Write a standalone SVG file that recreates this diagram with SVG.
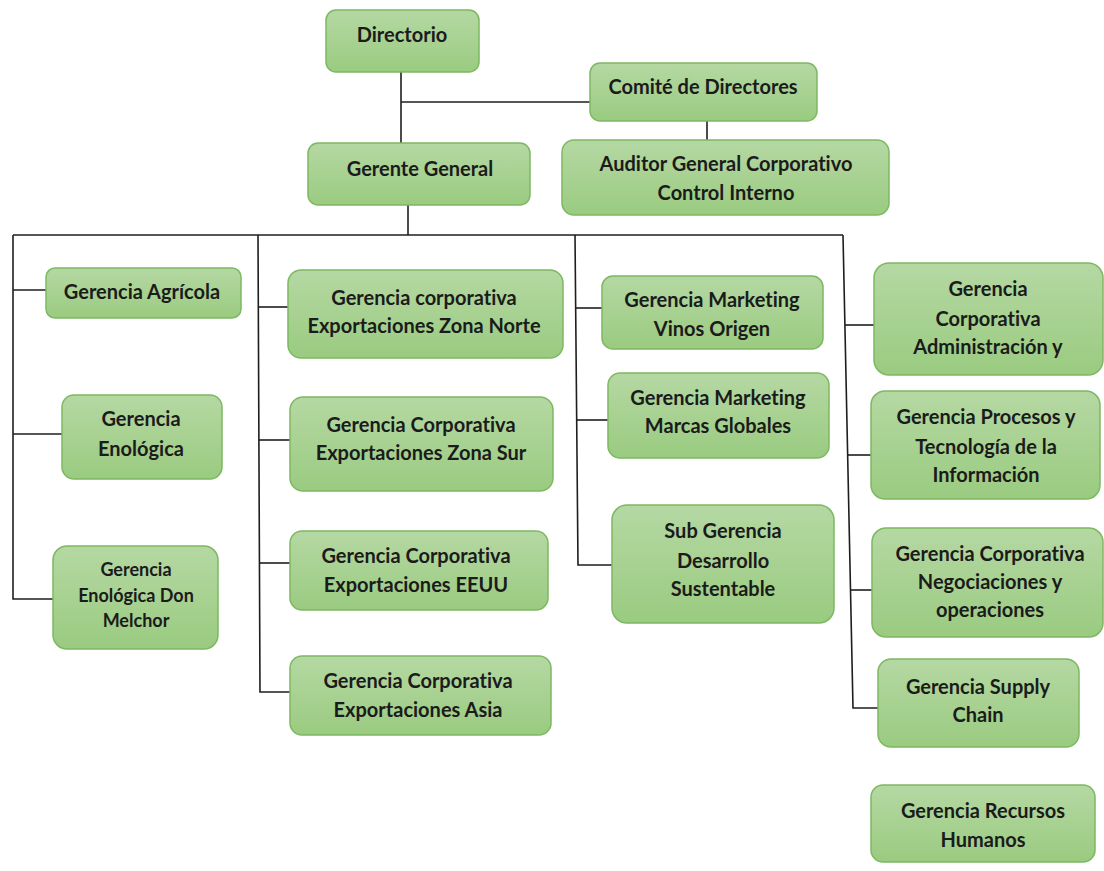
<svg xmlns="http://www.w3.org/2000/svg" width="1104" height="871" viewBox="0 0 1104 871">
  <defs>
    <linearGradient id="boxFill" x1="0" y1="0" x2="0" y2="1">
      <stop offset="0" stop-color="#b5d8a3"/>
      <stop offset="1" stop-color="#9acb80"/>
    </linearGradient>
    <style>
      .box { fill: url(#boxFill); stroke: #7db862; stroke-width: 1.5; }
      .lbl { font-family: Lato, "Open Sans", "Liberation Sans", sans-serif; font-weight: 700; font-size: 20px; fill: #1b1b1b; text-anchor: middle; dominant-baseline: central; font-variant-ligatures: none; }
      .small { font-size: 18px; }
      .wire { fill: none; stroke: #1e1e1e; stroke-width: 1.6; }
    </style>
  </defs>
  <rect width="1104" height="871" fill="#ffffff"/>

  <!-- connectors -->
  <g id="connectors" class="wire">
    <path d="M401 72 V143"/>
    <path d="M401 102 H590"/>
    <path d="M707 121 V140"/>
    <path d="M408 205 V235"/>
    <path d="M13 235 H843"/>
    <!-- column 1 -->
    <path d="M13 235 V599 H53"/>
    <path d="M13 290 H46"/>
    <path d="M13 434 H62"/>
    <!-- column 2 -->
    <path d="M258 235 L260 692 H290"/>
    <path d="M258 307 H288"/>
    <path d="M259 440 H290"/>
    <path d="M259 563 H290"/>
    <!-- column 3 -->
    <path d="M575 235 L578 565 H612"/>
    <path d="M575 308 H602"/>
    <path d="M577 420 H608"/>
    <!-- column 4 -->
    <path d="M843 235 L853 708 H878"/>
    <path d="M845 325 H874"/>
    <path d="M848 455 H871"/>
    <path d="M851 590 H872"/>
  </g>

  <g id="directorio">
    <rect class="box" x="326" y="10" width="153" height="62" rx="10"/>
    <text class="lbl" x="402" y="34">Directorio</text>
  </g>
  <g id="comite">
    <rect class="box" x="590" y="63" width="227" height="58" rx="10"/>
    <text class="lbl" x="703" y="86">Comité de Directores</text>
  </g>
  <g id="gerente-general">
    <rect class="box" x="308" y="143" width="222" height="62" rx="10"/>
    <text class="lbl" x="420" y="168">Gerente General</text>
  </g>
  <g id="auditor">
    <rect class="box" x="562" y="140" width="327" height="75" rx="12"/>
    <text class="lbl" x="726" y="163">Auditor General Corporativo</text>
    <text class="lbl" x="726" y="192">Control Interno</text>
  </g>

  <g id="agricola">
    <rect class="box" x="46" y="268" width="195" height="50" rx="9"/>
    <text class="lbl" x="142" y="291">Gerencia Agrícola</text>
  </g>
  <g id="enologica">
    <rect class="box" x="62" y="395" width="160" height="84" rx="12"/>
    <text class="lbl" x="141" y="418">Gerencia</text>
    <text class="lbl" x="141" y="448">Enológica</text>
  </g>
  <g id="don-melchor">
    <rect class="box" x="53" y="546" width="165" height="103" rx="14"/>
    <text class="lbl small" x="136" y="569">Gerencia</text>
    <text class="lbl small" x="136" y="595">Enológica Don</text>
    <text class="lbl small" x="136" y="620">Melchor</text>
  </g>

  <g id="zona-norte">
    <rect class="box" x="288" y="270" width="275" height="88" rx="13"/>
    <text class="lbl" x="424" y="297">Gerencia corporativa</text>
    <text class="lbl" x="424" y="325">Exportaciones Zona Norte</text>
  </g>
  <g id="zona-sur">
    <rect class="box" x="290" y="397" width="263" height="94" rx="13"/>
    <text class="lbl" x="421" y="424">Gerencia Corporativa</text>
    <text class="lbl" x="421" y="452">Exportaciones Zona Sur</text>
  </g>
  <g id="eeuu">
    <rect class="box" x="290" y="531" width="258" height="79" rx="12"/>
    <text class="lbl" x="416" y="555">Gerencia Corporativa</text>
    <text class="lbl" x="416" y="584">Exportaciones EEUU</text>
  </g>
  <g id="asia">
    <rect class="box" x="290" y="656" width="261" height="79" rx="12"/>
    <text class="lbl" x="418" y="680">Gerencia Corporativa</text>
    <text class="lbl" x="418" y="709">Exportaciones Asia</text>
  </g>

  <g id="vinos-origen">
    <rect class="box" x="602" y="276" width="221" height="73" rx="11"/>
    <text class="lbl" x="712" y="299">Gerencia Marketing</text>
    <text class="lbl" x="712" y="328">Vinos Origen</text>
  </g>
  <g id="marcas-globales">
    <rect class="box" x="608" y="373" width="221" height="85" rx="12"/>
    <text class="lbl" x="718" y="397">Gerencia Marketing</text>
    <text class="lbl" x="718" y="425">Marcas Globales</text>
  </g>
  <g id="desarrollo-sustentable">
    <rect class="box" x="612" y="505" width="222" height="118" rx="15"/>
    <text class="lbl" x="723" y="530">Sub Gerencia</text>
    <text class="lbl" x="723" y="560">Desarrollo</text>
    <text class="lbl" x="723" y="588">Sustentable</text>
  </g>

  <g id="administracion">
    <rect class="box" x="874" y="263" width="229" height="112" rx="15"/>
    <text class="lbl" x="988" y="288">Gerencia</text>
    <text class="lbl" x="988" y="318">Corporativa</text>
    <text class="lbl" x="988" y="346">Administración y</text>
  </g>
  <g id="procesos-ti">
    <rect class="box" x="871" y="391" width="229" height="108" rx="14"/>
    <text class="lbl" x="986" y="416">Gerencia Procesos y</text>
    <text class="lbl" x="986" y="446">Tecnología de la</text>
    <text class="lbl" x="986" y="474">Información</text>
  </g>
  <g id="negociaciones">
    <rect class="box" x="872" y="528" width="231" height="109" rx="14"/>
    <text class="lbl" x="990" y="553">Gerencia Corporativa</text>
    <text class="lbl" x="990" y="581">Negociaciones y</text>
    <text class="lbl" x="990" y="609">operaciones</text>
  </g>
  <g id="supply-chain">
    <rect class="box" x="878" y="659" width="201" height="88" rx="13"/>
    <text class="lbl" x="978" y="686">Gerencia Supply</text>
    <text class="lbl" x="978" y="714">Chain</text>
  </g>
  <g id="recursos-humanos">
    <rect class="box" x="871" y="785" width="224" height="77" rx="12"/>
    <text class="lbl" x="983" y="810">Gerencia Recursos</text>
    <text class="lbl" x="983" y="839">Humanos</text>
  </g>
</svg>
